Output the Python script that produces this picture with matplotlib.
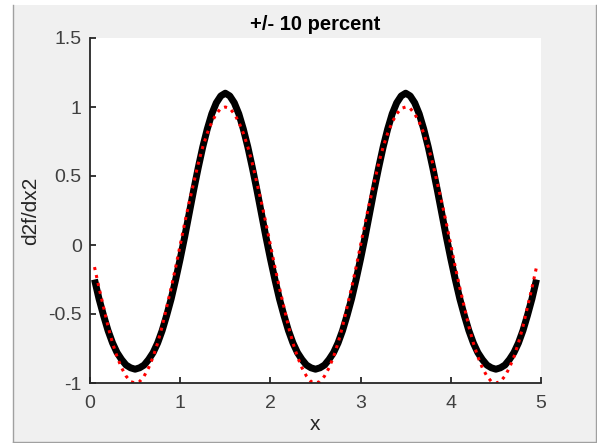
import numpy as np
import matplotlib
matplotlib.use("Agg")
import matplotlib.pyplot as plt
from matplotlib.patches import Rectangle
from matplotlib.lines import Line2D

plt.rcParams['font.family'] = ['Liberation Sans', 'DejaVu Sans']

# sample positions (step 0.05, 0.05 .. 4.95)
x = np.round(np.arange(0.05, 4.951, 0.05), 2)

# values, one period = 40 samples
black_period = [-0.25, -0.39, -0.51, -0.62, -0.71, -0.78, -0.83, -0.87, -0.89, -0.90,
                -0.89, -0.87, -0.83, -0.78, -0.71, -0.62, -0.51, -0.39, -0.25, -0.10,
                0.06, 0.23, 0.40, 0.56, 0.71, 0.84, 0.95, 1.03, 1.08, 1.10,
                1.08, 1.03, 0.95, 0.84, 0.71, 0.56, 0.40, 0.23, 0.06, -0.10]
red_period = [-0.16, -0.31, -0.45, -0.59, -0.71, -0.81, -0.89, -0.95, -0.99, -1.00,
              -0.99, -0.95, -0.89, -0.81, -0.71, -0.59, -0.45, -0.31, -0.16, 0.00,
              0.16, 0.31, 0.45, 0.59, 0.71, 0.81, 0.89, 0.95, 0.99, 1.00,
              0.99, 0.95, 0.89, 0.81, 0.71, 0.59, 0.45, 0.31, 0.16, 0.00]
black_vals = black_period + black_period + black_period[:19]
red_vals = red_period + red_period + red_period[:19]

xticks = [0, 1, 2, 3, 4, 5]
yticks = [-1, -0.5, 0, 0.5, 1, 1.5]
ytick_labels = ['-1', '-0.5', '0', '0.5', '1', '1.5']

fig = plt.figure(figsize=(5.97, 4.43), dpi=100, facecolor='white')

# gray window panel behind the axes
W, H = 597.0, 443.0
fig.patches.append(Rectangle((13 / W, 0), 1 - 13 / W, 1 - 5 / H, transform=fig.transFigure,
                             facecolor='#f0f0f0', edgecolor='none', zorder=-10))
for xs, ys in [([13 / W, 13 / W], [0, 1 - 5 / H]),
               ([596 / W, 596 / W], [0, 1 - 5 / H]),
               ([13 / W, 596 / W], [1 / H, 1 / H])]:
    fig.lines.append(Line2D(xs, ys, transform=fig.transFigure, color='#a0a0a0', lw=1.0))

ax = fig.add_axes([90 / W, 1 - 383 / H, (541 - 90) / W, (383 - 38) / H])
ax.set_facecolor('white')

ax.plot(x, black_vals, color='black', lw=5, solid_capstyle='butt')
ax.plot(x, red_vals, color='red', lw=2.2, linestyle=':')

ax.set_xlim(0, 5)
ax.set_ylim(-1, 1.5)
ax.set_xticks(xticks)
ax.set_xticklabels([str(t) for t in xticks])
ax.set_yticks(yticks)
ax.set_yticklabels(ytick_labels)

for s in ['top', 'right']:
    ax.spines[s].set_visible(False)
for s in ['left', 'bottom']:
    ax.spines[s].set_color('#262626')
    ax.spines[s].set_linewidth(1.3)

ax.tick_params(direction='in', length=4, width=1.3, color='#262626',
               labelcolor='#404040', labelsize=14)
ax.tick_params(axis='x', pad=9)
ax.tick_params(axis='y', pad=6)

ax.set_title('+/- 10 percent', fontsize=14.5, fontweight='bold', pad=6)
ax.set_xlabel('x', fontsize=15, color='#262626', labelpad=2)
ax.set_ylabel('d2f/dx2', fontsize=15, color='#262626', labelpad=6)

fig.savefig('out.png', dpi=100, facecolor=fig.get_facecolor())
